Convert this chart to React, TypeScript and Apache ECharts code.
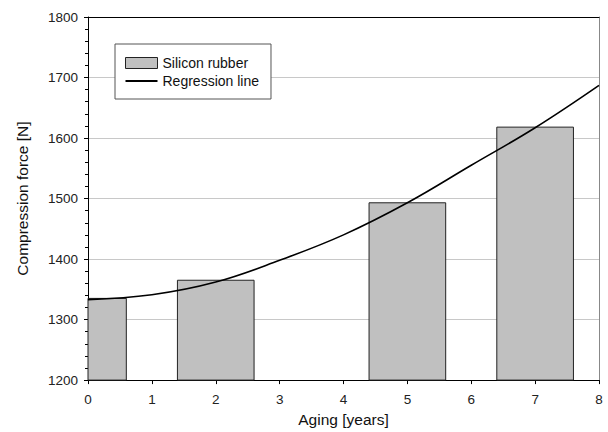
import React, { useEffect, useRef } from "react";
import * as echarts from "echarts";

const ages = [0, 2, 5, 7];
const forces = [1335, 1365, 1493, 1618];
const regAges = [0, 1, 2, 3, 4, 5, 6, 7, 8];
const regForces = [1333, 1341, 1362, 1398, 1440, 1493, 1555, 1617, 1687];
const seriesNames = ["Silicon rubber", "Regression line"];

const BAR_HALF = 0.6;
const FONT = "Liberation Sans, Arial, sans-serif";

export default function App() {
  const ref = useRef<HTMLDivElement>(null);
  useEffect(() => {
    if (!ref.current) return;
    const chart = echarts.init(ref.current, undefined, { renderer: "svg" });
    const barData = ages.map((a, i) => [a, forces[i]]);
    const lineData = regAges.map((a, i) => [a, regForces[i]]);
    chart.setOption({
      animation: false,
      backgroundColor: "#fff",
      textStyle: { fontFamily: FONT },
      grid: { left: 88, right: 9, top: 17, bottom: 49 },
      legend: {
        orient: "vertical",
        left: 115,
        top: 44,
        padding: [12, 12, 11, 10],
        itemGap: 4,
        itemWidth: 32,
        itemHeight: 11,
        itemTextGap: 9,
        borderColor: "#555",
        borderWidth: 1,
        backgroundColor: "#fff",
        textStyle: { fontFamily: FONT, fontSize: 14, color: "#111", lineHeight: 14 },
        data: [
          {
            name: seriesNames[0],
            icon: "rect",
            itemStyle: { color: "#c0c0c0", borderColor: "#222", borderWidth: 1 },
          },
          {
            name: seriesNames[1],
            icon: "path://M0,0 L32,0 L32,1.8 L0,1.8 Z",
            itemStyle: { color: "#000", borderWidth: 0 },
          },
        ],
      },
      xAxis: [
        {
          type: "value",
          min: 0,
          max: 8,
          interval: 1,
          name: "Aging [years]",
          nameLocation: "middle",
          nameGap: 29,
          nameTextStyle: { fontFamily: FONT, fontSize: 15.5, color: "#111" },
          axisLine: { lineStyle: { color: "#000", width: 1 } },
          axisTick: { show: true, length: 4, lineStyle: { color: "#000" } },
          axisLabel: { margin: 12, fontFamily: FONT, fontSize: 13.5, color: "#222" },
          splitLine: { show: false },
        },
        {
          type: "value",
          position: "top",
          min: 0,
          max: 8,
          axisLine: { show: true, onZero: false, lineStyle: { color: "#000", width: 1 } },
          axisTick: { show: false },
          axisLabel: { show: false },
          splitLine: { show: false },
        },
      ],
      yAxis: [
        {
          type: "value",
          min: 1200,
          max: 1800,
          interval: 100,
          name: "Compression force [N]",
          nameLocation: "middle",
          nameGap: 58,
          nameTextStyle: { fontFamily: FONT, fontSize: 15.5, color: "#111" },
          axisLine: { show: true, lineStyle: { color: "#000", width: 1 } },
          axisTick: { show: true, length: 4, lineStyle: { color: "#000" } },
          minorTick: { show: true, splitNumber: 5, length: 3, lineStyle: { color: "#000" } },
          axisLabel: {
            margin: 10,
            fontFamily: FONT,
            fontSize: 13.5,
            color: "#222",
            formatter: (v: number) => String(v),
          },
          splitLine: { show: true, lineStyle: { color: "#c8c8c8", width: 1 } },
        },
        {
          type: "value",
          position: "right",
          min: 1200,
          max: 1800,
          axisLine: { show: true, onZero: false, lineStyle: { color: "#888", width: 1 } },
          axisTick: { show: false },
          axisLabel: { show: false },
          splitLine: { show: false },
        },
      ],
      series: [
        {
          name: seriesNames[0],
          type: "custom",
          xAxisIndex: 0,
          yAxisIndex: 0,
          itemStyle: { color: "#c0c0c0", borderColor: "#222", borderWidth: 1 },
          encode: { x: 0, y: 1 },
          data: barData,
          z: 2,
          renderItem: (params: any, api: any) => {
            const x = api.value(0);
            const y = api.value(1);
            const p0 = api.coord([x - BAR_HALF, y]);
            const p1 = api.coord([x + BAR_HALF, 1200]);
            const cs = params.coordSys;
            const left = Math.max(p0[0], cs.x);
            const right = Math.min(p1[0], cs.x + cs.width);
            return {
              type: "rect",
              shape: { x: left, y: p0[1], width: right - left, height: p1[1] - p0[1] },
              style: { fill: "#c0c0c0", stroke: "#222", lineWidth: 1 },
            };
          },
        },
        {
          name: seriesNames[1],
          type: "line",
          xAxisIndex: 0,
          yAxisIndex: 0,
          data: lineData,
          smooth: 0.4,
          showSymbol: false,
          symbol: "none",
          lineStyle: { color: "#000", width: 1.6 },
          itemStyle: { color: "#000" },
          z: 3,
        },
      ],
    });
    return () => chart.dispose();
  }, []);
  return <div ref={ref} style={{ width: 608, height: 432, position: "absolute", left: 0, top: 0 }} />;
}
